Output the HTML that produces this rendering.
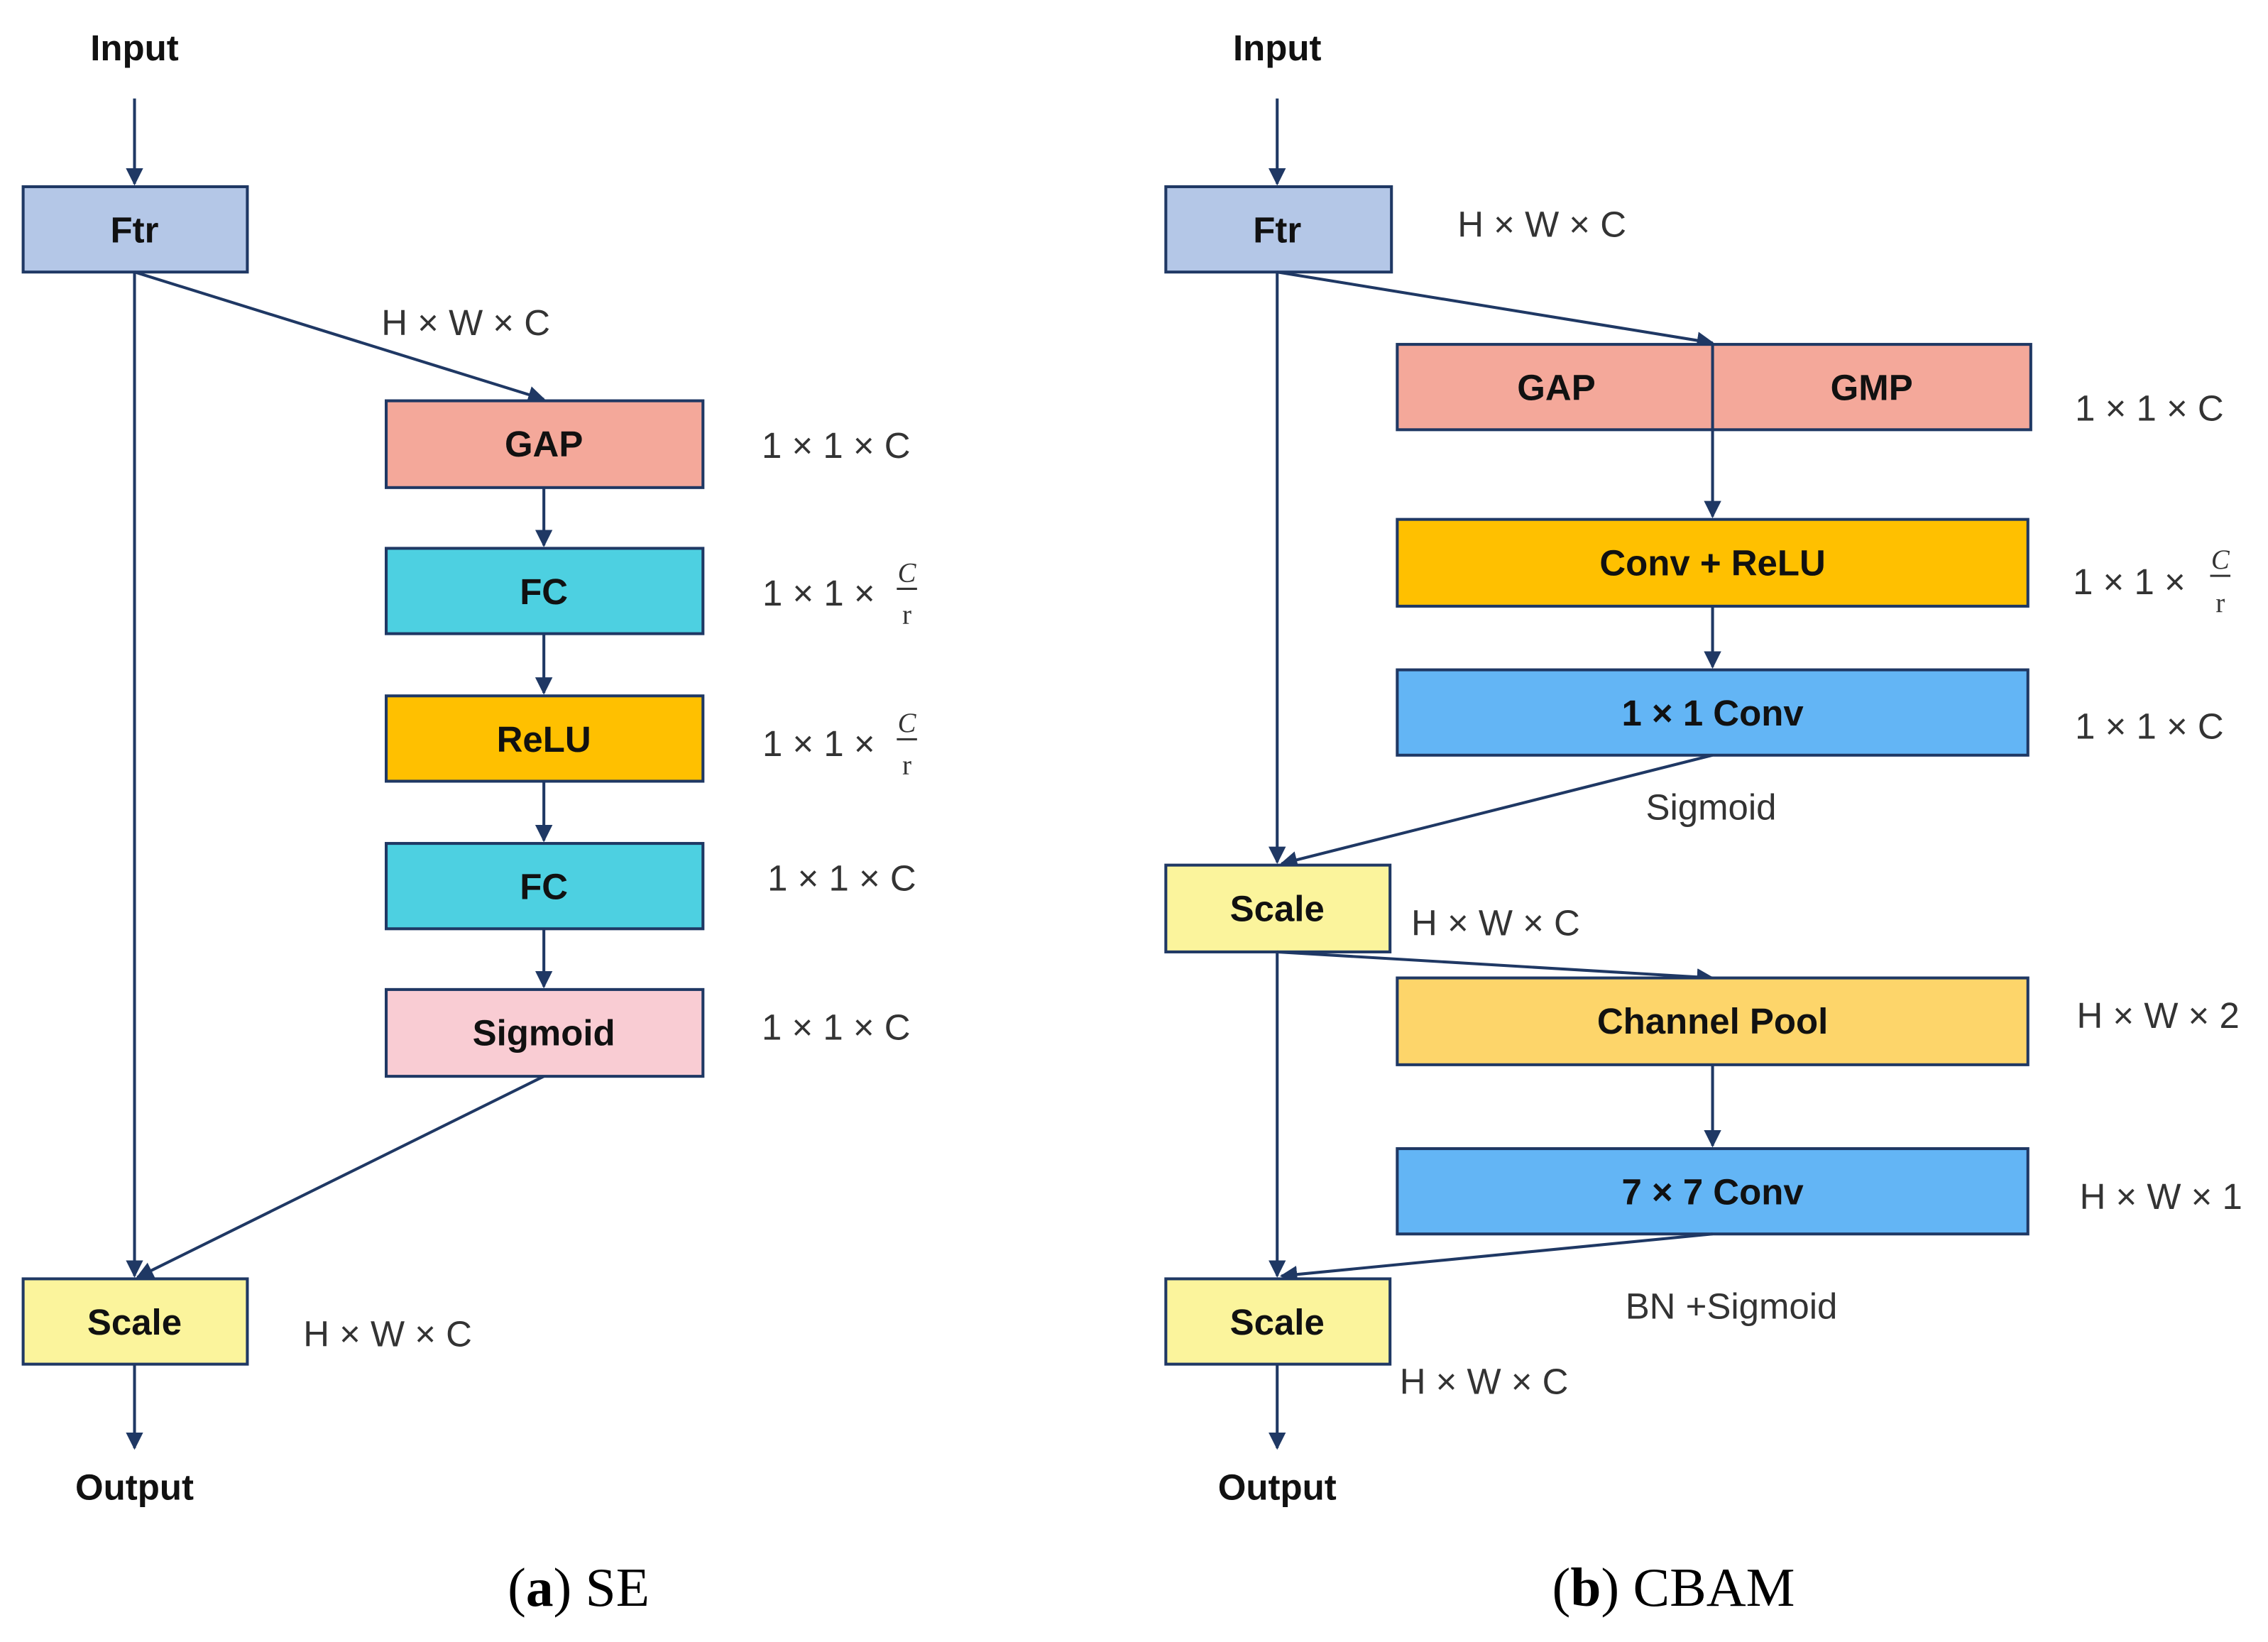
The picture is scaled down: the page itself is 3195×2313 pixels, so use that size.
<!DOCTYPE html>
<html><head><meta charset="utf-8"><style>html,body{margin:0;padding:0;background:#fff}svg{display:block}</style></head><body>
<svg width="3195" height="2313" viewBox="0 0 1568 1135" xmlns="http://www.w3.org/2000/svg">
<defs><marker id="a" viewBox="0 0 10 10" refX="9" refY="5" markerWidth="6" markerHeight="6" orient="auto-start-reverse"><path d="M0,0L10,5L0,10z" fill="#1F3864"/></marker></defs>
<style>
.b{stroke:#1F3864;stroke-width:2}
.l{stroke:#1F3864;stroke-width:2;fill:none}
.t{font-family:"Liberation Sans",sans-serif;font-weight:bold;font-size:25px;fill:#111;text-anchor:middle;dominant-baseline:central}
.d{font-family:"Liberation Sans",sans-serif;font-size:25px;fill:#333;text-anchor:middle;dominant-baseline:central}
.f{font-family:"Liberation Serif",serif;font-size:19px;fill:#333;text-anchor:middle}
.c{font-family:"Liberation Serif",serif;font-size:38px;fill:#000;text-anchor:middle}
</style>
<!-- Left SE -->
<text class="t" x="93" y="33">Input</text>
<line class="l" x1="93" y1="68" x2="93" y2="127" marker-end="url(#a)"/>
<rect class="b" x="16" y="129" width="155" height="59" fill="#B4C7E7"/><text class="t" x="93" y="159">Ftr</text>
<line class="l" x1="93" y1="188" x2="93" y2="882" marker-end="url(#a)"/>
<line class="l" x1="93" y1="188" x2="376" y2="276" marker-end="url(#a)"/>
<text class="d" x="322" y="223">H × W × C</text>
<rect class="b" x="267" y="277" width="219" height="60" fill="#F4A89A"/><text class="t" x="376" y="307">GAP</text>
<line class="l" x1="376" y1="337" x2="376" y2="377" marker-end="url(#a)"/>
<rect class="b" x="267" y="379" width="219" height="59" fill="#4DD0E1"/><text class="t" x="376" y="409">FC</text>
<line class="l" x1="376" y1="438" x2="376" y2="479" marker-end="url(#a)"/>
<rect class="b" x="267" y="481" width="219" height="59" fill="#FFC000"/><text class="t" x="376" y="511">ReLU</text>
<line class="l" x1="376" y1="540" x2="376" y2="581" marker-end="url(#a)"/>
<rect class="b" x="267" y="583" width="219" height="59" fill="#4DD0E1"/><text class="t" x="376" y="613">FC</text>
<line class="l" x1="376" y1="642" x2="376" y2="682" marker-end="url(#a)"/>
<rect class="b" x="267" y="684" width="219" height="60" fill="#F9CCD3"/><text class="t" x="376" y="714">Sigmoid</text>
<line class="l" x1="376" y1="744" x2="95" y2="883" marker-end="url(#a)"/>
<text class="d" x="578" y="308">1 × 1 × C</text>
<text class="d" x="566" y="410">1 × 1 ×</text><text class="f" x="627" y="402" font-style="italic">C</text><line x1="620" y1="407" x2="634" y2="407" stroke="#333" stroke-width="1.5"/><text class="f" x="627" y="431">r</text>
<text class="d" x="566" y="514">1 × 1 ×</text><text class="f" x="627" y="506" font-style="italic">C</text><line x1="620" y1="511" x2="634" y2="511" stroke="#333" stroke-width="1.5"/><text class="f" x="627" y="535">r</text>
<text class="d" x="582" y="607">1 × 1 × C</text>
<text class="d" x="578" y="710">1 × 1 × C</text>
<rect class="b" x="16" y="884" width="155" height="59" fill="#FBF49C"/><text class="t" x="93" y="914">Scale</text>
<text class="d" x="268" y="922">H × W × C</text>
<line class="l" x1="93" y1="943" x2="93" y2="1001" marker-end="url(#a)"/>
<text class="t" x="93" y="1028">Output</text>
<text class="c" x="400" y="1110">(<tspan font-weight="bold">a</tspan>) SE</text>
<!-- Right CBAM -->
<text class="t" x="883" y="33">Input</text>
<line class="l" x1="883" y1="68" x2="883" y2="127" marker-end="url(#a)"/>
<rect class="b" x="806" y="129" width="156" height="59" fill="#B4C7E7"/><text class="t" x="883" y="159">Ftr</text>
<text class="d" x="1066" y="155">H × W × C</text>
<line class="l" x1="883" y1="188" x2="883" y2="596" marker-end="url(#a)"/>
<line class="l" x1="883" y1="188" x2="1184" y2="237" marker-end="url(#a)"/>
<rect class="b" x="966" y="238" width="438" height="59" fill="#F4A89A"/>
<text class="t" x="1076" y="268">GAP</text><text class="t" x="1294" y="268">GMP</text>
<line class="l" x1="1184" y1="238" x2="1184" y2="357" marker-end="url(#a)"/>
<text class="d" x="1486" y="282">1 × 1 × C</text>
<rect class="b" x="966" y="359" width="436" height="60" fill="#FFC000"/><text class="t" x="1184" y="389">Conv + ReLU</text>
<text class="d" x="1472" y="402">1 × 1 ×</text><text class="f" x="1535" y="393" font-style="italic">C</text><line x1="1528" y1="398" x2="1542" y2="398" stroke="#333" stroke-width="1.5"/><text class="f" x="1535" y="423">r</text>
<line class="l" x1="1184" y1="419" x2="1184" y2="461" marker-end="url(#a)"/>
<rect class="b" x="966" y="463" width="436" height="59" fill="#63B5F5"/><text class="t" x="1184" y="493">1 × 1 Conv</text>
<text class="d" x="1486" y="502">1 × 1 × C</text>
<line class="l" x1="1184" y1="522" x2="886" y2="597" marker-end="url(#a)"/>
<text class="d" x="1183" y="558">Sigmoid</text>
<rect class="b" x="806" y="598" width="155" height="60" fill="#FBF49C"/><text class="t" x="883" y="628">Scale</text>
<text class="d" x="1034" y="638">H × W × C</text>
<line class="l" x1="883" y1="658" x2="883" y2="882" marker-end="url(#a)"/>
<line class="l" x1="883" y1="658" x2="1184" y2="676" marker-end="url(#a)"/>
<rect class="b" x="966" y="676" width="436" height="60" fill="#FDD56A"/><text class="t" x="1184" y="706">Channel Pool</text>
<text class="d" x="1492" y="702">H × W × 2</text>
<line class="l" x1="1184" y1="736" x2="1184" y2="792" marker-end="url(#a)"/>
<rect class="b" x="966" y="794" width="436" height="59" fill="#63B5F5"/><text class="t" x="1184" y="824">7 × 7 Conv</text>
<text class="d" x="1494" y="827">H × W × 1</text>
<line class="l" x1="1184" y1="853" x2="886" y2="882" marker-end="url(#a)"/>
<text class="d" x="1197" y="903">BN +Sigmoid</text>
<rect class="b" x="806" y="884" width="155" height="59" fill="#FBF49C"/><text class="t" x="883" y="914">Scale</text>
<text class="d" x="1026" y="955">H × W × C</text>
<line class="l" x1="883" y1="943" x2="883" y2="1001" marker-end="url(#a)"/>
<text class="t" x="883" y="1028">Output</text>
<text class="c" x="1157" y="1110">(<tspan font-weight="bold">b</tspan>) CBAM</text>
</svg>
</body></html>
